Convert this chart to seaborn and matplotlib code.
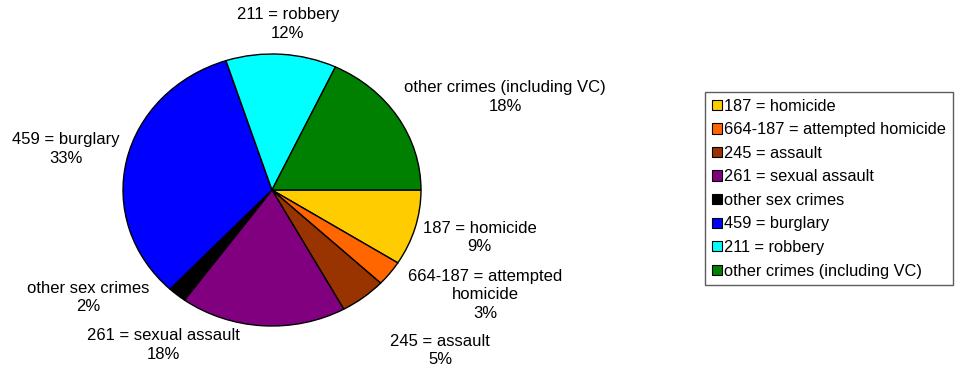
import matplotlib
matplotlib.use("Agg")
import matplotlib.pyplot as plt
from matplotlib.patches import Patch
import seaborn as sns
import numpy as np

# Crime categories and their share of cases (percent)
categories = [
    "187 = homicide",
    "664-187 = attempted homicide",
    "245 = assault",
    "261 = sexual assault",
    "other sex crimes",
    "459 = burglary",
    "211 = robbery",
    "other crimes (including VC)",
]
shares = [9, 3, 5, 18, 2, 33, 12, 18]

# Slice labels as printed next to the pie (line breaks where they wrap)
slice_labels = [
    "187 = homicide",
    "664-187 = attempted\nhomicide",
    "245 = assault",
    "261 = sexual assault",
    "other sex crimes",
    "459 = burglary",
    "211 = robbery",
    "other crimes (including VC)",
]
palette = ["#FFCC00", "#FF6600", "#993300", "#800080",
           "#000000", "#0000FF", "#00FFFF", "#008000"]

sns.set_theme(style="white")
plt.rcParams["font.family"] = ["Liberation Sans", "DejaVu Sans"]
plt.rcParams["text.color"] = "black"
colors = sns.color_palette(palette)

W, H = 966, 371
fig = plt.figure(figsize=(W / 100, H / 100), dpi=100)
fig.patch.set_facecolor("white")

# pie centred at (272, 190) px with radii 149 x 136 px
cx, cy, rx, ry = 272, 190, 149, 136
ax = fig.add_axes([(cx - rx) / W, (H - cy - ry) / H, 2 * rx / W, 2 * ry / H])

wedges, _ = ax.pie(shares, colors=colors, startangle=0, counterclock=False,
                   wedgeprops=dict(edgecolor="black", linewidth=1.0))
ax.set_aspect("auto")
ax.set_xlim(-1, 1)
ax.set_ylim(-1, 1)
ax.axis("off")

# label anchor points in the pie's own unit coordinates
label_pos = [
    (1.393, -0.35),
    (1.43, -0.77),
    (1.128, -1.18),
    (-0.73, -1.14),
    (-1.235, -0.79),
    (-1.385, 0.30),
    (0.107, 1.22),
    (1.565, 0.685),
]
for lab, val, (x, y) in zip(slice_labels, shares, label_pos):
    ax.text(x, y, f"{lab}\n{val}%", ha="center", va="center",
            fontsize=12, linespacing=1.3, color="black", clip_on=False)

handles = [Patch(facecolor=c, edgecolor="black", linewidth=0.8) for c in colors]
leg = fig.legend(handles, categories, loc="upper left",
                 bbox_to_anchor=(705 / W, 1 - 92 / H), borderaxespad=0,
                 fontsize=11.8, frameon=True, fancybox=False,
                 handlelength=0.6, handleheight=0.6, handletextpad=0.15,
                 labelspacing=0.52, borderpad=0.42, labelcolor="black")
leg.get_frame().set_edgecolor("#333333")
leg.get_frame().set_linewidth(1.0)

fig.savefig("out.png", dpi=100, facecolor="white")
